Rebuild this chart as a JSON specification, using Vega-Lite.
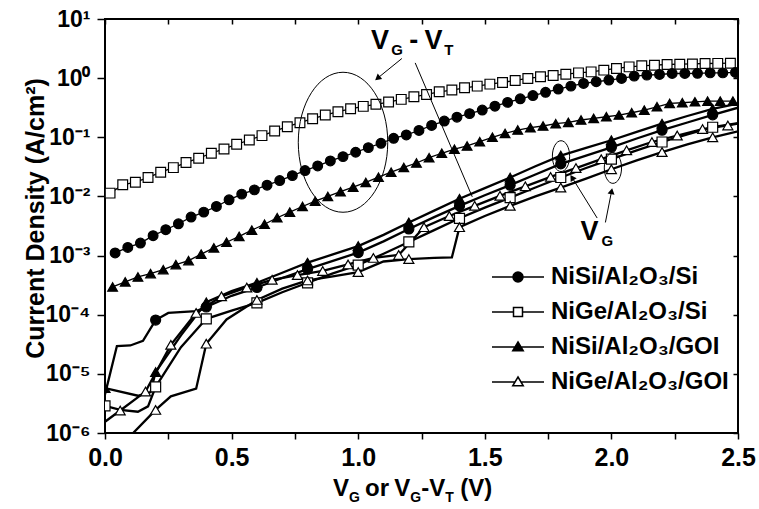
{
  "$schema": "https://vega.github.io/schema/vega-lite/v6.json",
  "width": 633,
  "height": 414,
  "autosize": {"type": "none"},
  "padding": {"left": 105, "top": 19, "right": 21, "bottom": 76},
  "background": "white",
  "config": {
    "view": {"stroke": "black", "strokeWidth": 2},
    "font": "Liberation Sans",
    "axis": {"labelFont": "Liberation Sans", "titleFont": "Liberation Sans", "labelColor": "black", "titleColor": "black", "tickColor": "black", "grid": false, "domain": false}
  },
  "datasets": {
    "vt": [
      {"s":"NiGe/Al2O3/Si","x":0.02,"y":0.01138},{"s":"NiGe/Al2O3/Si","x":0.07,"y":0.0157},{"s":"NiGe/Al2O3/Si","x":0.12,"y":0.01742},{"s":"NiGe/Al2O3/Si","x":0.17,"y":0.02084},{"s":"NiGe/Al2O3/Si","x":0.22,"y":0.0257},{"s":"NiGe/Al2O3/Si","x":0.27,"y":0.03069},{"s":"NiGe/Al2O3/Si","x":0.32,"y":0.03733},{"s":"NiGe/Al2O3/Si","x":0.37,"y":0.04426},{"s":"NiGe/Al2O3/Si","x":0.42,"y":0.0537},{"s":"NiGe/Al2O3/Si","x":0.47,"y":0.06353},
      {"s":"NiGe/Al2O3/Si","x":0.52,"y":0.07621},{"s":"NiGe/Al2O3/Si","x":0.57,"y":0.08995},{"s":"NiGe/Al2O3/Si","x":0.62,"y":0.1067},{"s":"NiGe/Al2O3/Si","x":0.67,"y":0.1276},{"s":"NiGe/Al2O3/Si","x":0.72,"y":0.151},{"s":"NiGe/Al2O3/Si","x":0.77,"y":0.1762},{"s":"NiGe/Al2O3/Si","x":0.82,"y":0.2061},{"s":"NiGe/Al2O3/Si","x":0.87,"y":0.2377},{"s":"NiGe/Al2O3/Si","x":0.92,"y":0.2704},{"s":"NiGe/Al2O3/Si","x":0.97,"y":0.3034},
      {"s":"NiGe/Al2O3/Si","x":1.02,"y":0.3334},{"s":"NiGe/Al2O3/Si","x":1.07,"y":0.3606},{"s":"NiGe/Al2O3/Si","x":1.12,"y":0.3936},{"s":"NiGe/Al2O3/Si","x":1.17,"y":0.4375},{"s":"NiGe/Al2O3/Si","x":1.22,"y":0.4842},{"s":"NiGe/Al2O3/Si","x":1.27,"y":0.5297},{"s":"NiGe/Al2O3/Si","x":1.32,"y":0.5875},{"s":"NiGe/Al2O3/Si","x":1.37,"y":0.6281},{"s":"NiGe/Al2O3/Si","x":1.42,"y":0.6855},{"s":"NiGe/Al2O3/Si","x":1.47,"y":0.7328},
      {"s":"NiGe/Al2O3/Si","x":1.52,"y":0.7925},{"s":"NiGe/Al2O3/Si","x":1.57,"y":0.8453},{"s":"NiGe/Al2O3/Si","x":1.62,"y":0.9141},{"s":"NiGe/Al2O3/Si","x":1.67,"y":0.9886},{"s":"NiGe/Al2O3/Si","x":1.72,"y":1.052},{"s":"NiGe/Al2O3/Si","x":1.77,"y":1.112},{"s":"NiGe/Al2O3/Si","x":1.82,"y":1.167},{"s":"NiGe/Al2O3/Si","x":1.87,"y":1.227},{"s":"NiGe/Al2O3/Si","x":1.92,"y":1.276},{"s":"NiGe/Al2O3/Si","x":1.97,"y":1.365},
      {"s":"NiGe/Al2O3/Si","x":2.02,"y":1.459},{"s":"NiGe/Al2O3/Si","x":2.07,"y":1.552},{"s":"NiGe/Al2O3/Si","x":2.12,"y":1.614},{"s":"NiGe/Al2O3/Si","x":2.17,"y":1.656},{"s":"NiGe/Al2O3/Si","x":2.22,"y":1.702},{"s":"NiGe/Al2O3/Si","x":2.27,"y":1.722},{"s":"NiGe/Al2O3/Si","x":2.32,"y":1.738},{"s":"NiGe/Al2O3/Si","x":2.37,"y":1.77},{"s":"NiGe/Al2O3/Si","x":2.42,"y":1.778},{"s":"NiGe/Al2O3/Si","x":2.47,"y":1.791},

      {"s":"NiSi/Al2O3/Si","x":0.04,"y":0.001107},{"s":"NiSi/Al2O3/Si","x":0.09,"y":0.001374},{"s":"NiSi/Al2O3/Si","x":0.14,"y":0.001629},{"s":"NiSi/Al2O3/Si","x":0.19,"y":0.002168},{"s":"NiSi/Al2O3/Si","x":0.24,"y":0.002735},{"s":"NiSi/Al2O3/Si","x":0.29,"y":0.003451},{"s":"NiSi/Al2O3/Si","x":0.34,"y":0.004477},{"s":"NiSi/Al2O3/Si","x":0.39,"y":0.005433},{"s":"NiSi/Al2O3/Si","x":0.44,"y":0.006761},{"s":"NiSi/Al2O3/Si","x":0.49,"y":0.00877},
      {"s":"NiSi/Al2O3/Si","x":0.54,"y":0.01094},{"s":"NiSi/Al2O3/Si","x":0.59,"y":0.01291},{"s":"NiSi/Al2O3/Si","x":0.64,"y":0.01549},{"s":"NiSi/Al2O3/Si","x":0.69,"y":0.01854},{"s":"NiSi/Al2O3/Si","x":0.74,"y":0.02249},{"s":"NiSi/Al2O3/Si","x":0.79,"y":0.02735},{"s":"NiSi/Al2O3/Si","x":0.84,"y":0.03281},{"s":"NiSi/Al2O3/Si","x":0.89,"y":0.03981},{"s":"NiSi/Al2O3/Si","x":0.94,"y":0.0471},{"s":"NiSi/Al2O3/Si","x":0.99,"y":0.05585},
      {"s":"NiSi/Al2O3/Si","x":1.04,"y":0.06683},{"s":"NiSi/Al2O3/Si","x":1.09,"y":0.07925},{"s":"NiSi/Al2O3/Si","x":1.14,"y":0.09616},{"s":"NiSi/Al2O3/Si","x":1.19,"y":0.1094},{"s":"NiSi/Al2O3/Si","x":1.24,"y":0.1303},{"s":"NiSi/Al2O3/Si","x":1.29,"y":0.1585},{"s":"NiSi/Al2O3/Si","x":1.34,"y":0.1884},{"s":"NiSi/Al2O3/Si","x":1.39,"y":0.2188},{"s":"NiSi/Al2O3/Si","x":1.44,"y":0.2512},{"s":"NiSi/Al2O3/Si","x":1.49,"y":0.2884},
      {"s":"NiSi/Al2O3/Si","x":1.54,"y":0.335},{"s":"NiSi/Al2O3/Si","x":1.59,"y":0.389},{"s":"NiSi/Al2O3/Si","x":1.64,"y":0.4467},{"s":"NiSi/Al2O3/Si","x":1.69,"y":0.507},{"s":"NiSi/Al2O3/Si","x":1.74,"y":0.5754},{"s":"NiSi/Al2O3/Si","x":1.79,"y":0.6531},{"s":"NiSi/Al2O3/Si","x":1.84,"y":0.7328},{"s":"NiSi/Al2O3/Si","x":1.89,"y":0.8128},{"s":"NiSi/Al2O3/Si","x":1.94,"y":0.869},{"s":"NiSi/Al2O3/Si","x":1.99,"y":0.9268},
      {"s":"NiSi/Al2O3/Si","x":2.04,"y":0.9886},{"s":"NiSi/Al2O3/Si","x":2.09,"y":1.081},{"s":"NiSi/Al2O3/Si","x":2.14,"y":1.125},{"s":"NiSi/Al2O3/Si","x":2.19,"y":1.153},{"s":"NiSi/Al2O3/Si","x":2.24,"y":1.199},{"s":"NiSi/Al2O3/Si","x":2.29,"y":1.199},{"s":"NiSi/Al2O3/Si","x":2.34,"y":1.208},{"s":"NiSi/Al2O3/Si","x":2.39,"y":1.227},{"s":"NiSi/Al2O3/Si","x":2.44,"y":1.227},{"s":"NiSi/Al2O3/Si","x":2.49,"y":1.247},

      {"s":"NiSi/Al2O3/GOI","x":0.03,"y":0.0002951},{"s":"NiSi/Al2O3/GOI","x":0.08,"y":0.0003589},{"s":"NiSi/Al2O3/GOI","x":0.13,"y":0.0004355},{"s":"NiSi/Al2O3/GOI","x":0.18,"y":0.0004955},{"s":"NiSi/Al2O3/GOI","x":0.23,"y":0.0005781},{"s":"NiSi/Al2O3/GOI","x":0.28,"y":0.0007031},{"s":"NiSi/Al2O3/GOI","x":0.33,"y":0.0008222},{"s":"NiSi/Al2O3/GOI","x":0.38,"y":0.001059},{"s":"NiSi/Al2O3/GOI","x":0.43,"y":0.001349},{"s":"NiSi/Al2O3/GOI","x":0.48,"y":0.001679},
      {"s":"NiSi/Al2O3/GOI","x":0.53,"y":0.002113},{"s":"NiSi/Al2O3/GOI","x":0.58,"y":0.002692},{"s":"NiSi/Al2O3/GOI","x":0.63,"y":0.003388},{"s":"NiSi/Al2O3/GOI","x":0.68,"y":0.004365},{"s":"NiSi/Al2O3/GOI","x":0.73,"y":0.005433},{"s":"NiSi/Al2O3/GOI","x":0.78,"y":0.006761},{"s":"NiSi/Al2O3/GOI","x":0.83,"y":0.008318},{"s":"NiSi/Al2O3/GOI","x":0.88,"y":0.01},{"s":"NiSi/Al2O3/GOI","x":0.93,"y":0.01202},{"s":"NiSi/Al2O3/GOI","x":0.98,"y":0.01435},
      {"s":"NiSi/Al2O3/GOI","x":1.03,"y":0.01726},{"s":"NiSi/Al2O3/GOI","x":1.08,"y":0.02113},{"s":"NiSi/Al2O3/GOI","x":1.13,"y":0.0257},{"s":"NiSi/Al2O3/GOI","x":1.18,"y":0.0309},{"s":"NiSi/Al2O3/GOI","x":1.23,"y":0.03673},{"s":"NiSi/Al2O3/GOI","x":1.28,"y":0.04519},{"s":"NiSi/Al2O3/GOI","x":1.33,"y":0.0537},{"s":"NiSi/Al2O3/GOI","x":1.38,"y":0.06281},{"s":"NiSi/Al2O3/GOI","x":1.43,"y":0.07129},{"s":"NiSi/Al2O3/GOI","x":1.48,"y":0.08433},
      {"s":"NiSi/Al2O3/GOI","x":1.53,"y":0.1},{"s":"NiSi/Al2O3/GOI","x":1.58,"y":0.1161},{"s":"NiSi/Al2O3/GOI","x":1.63,"y":0.1327},{"s":"NiSi/Al2O3/GOI","x":1.68,"y":0.1452},{"s":"NiSi/Al2O3/GOI","x":1.73,"y":0.1552},{"s":"NiSi/Al2O3/GOI","x":1.78,"y":0.1698},{"s":"NiSi/Al2O3/GOI","x":1.83,"y":0.1791},{"s":"NiSi/Al2O3/GOI","x":1.88,"y":0.1959},{"s":"NiSi/Al2O3/GOI","x":1.93,"y":0.2089},{"s":"NiSi/Al2O3/GOI","x":1.98,"y":0.2223},
      {"s":"NiSi/Al2O3/GOI","x":2.03,"y":0.2377},{"s":"NiSi/Al2O3/GOI","x":2.08,"y":0.26},{"s":"NiSi/Al2O3/GOI","x":2.13,"y":0.2884},{"s":"NiSi/Al2O3/GOI","x":2.18,"y":0.3281},{"s":"NiSi/Al2O3/GOI","x":2.23,"y":0.3741},{"s":"NiSi/Al2O3/GOI","x":2.28,"y":0.3837},{"s":"NiSi/Al2O3/GOI","x":2.33,"y":0.3981},{"s":"NiSi/Al2O3/GOI","x":2.38,"y":0.4093},{"s":"NiSi/Al2O3/GOI","x":2.43,"y":0.4093},{"s":"NiSi/Al2O3/GOI","x":2.48,"y":0.4093}
    ],
    "vg": [
      {"c":"a","s":"NiSi/Al2O3/Si","x":0,"y":4.5e-6,"m":0},{"c":"a","s":"NiSi/Al2O3/Si","x":0.047,"y":2.951e-5,"m":0},{"c":"a","s":"NiSi/Al2O3/Si","x":0.1,"y":3.02e-5,"m":0},{"c":"a","s":"NiSi/Al2O3/Si","x":0.15,"y":3.631e-5,"m":0},{"c":"a","s":"NiSi/Al2O3/Si","x":0.2,"y":8.128e-5,"m":1},{"c":"a","s":"NiSi/Al2O3/Si","x":0.25,"y":1.072e-4,"m":0},{"c":"a","s":"NiSi/Al2O3/Si","x":0.36,"y":1.148e-4,"m":0},{"c":"a","s":"NiSi/Al2O3/Si","x":0.4,"y":1.349e-4,"m":1},{"c":"a","s":"NiSi/Al2O3/Si","x":0.5,"y":2.089e-4,"m":0},{"c":"a","s":"NiSi/Al2O3/Si","x":0.6,"y":2.884e-4,"m":1},
      {"c":"a","s":"NiSi/Al2O3/Si","x":0.7,"y":4.169e-4,"m":0},{"c":"a","s":"NiSi/Al2O3/Si","x":0.8,"y":5.888e-4,"m":1},{"c":"a","s":"NiSi/Al2O3/Si","x":0.9,"y":8.128e-4,"m":0},{"c":"a","s":"NiSi/Al2O3/Si","x":1.0,"y":1.122e-3,"m":1},{"c":"a","s":"NiSi/Al2O3/Si","x":1.1,"y":1.738e-3,"m":0},{"c":"a","s":"NiSi/Al2O3/Si","x":1.2,"y":2.818e-3,"m":1},{"c":"a","s":"NiSi/Al2O3/Si","x":1.3,"y":4.467e-3,"m":0},{"c":"a","s":"NiSi/Al2O3/Si","x":1.4,"y":6.918e-3,"m":1},{"c":"a","s":"NiSi/Al2O3/Si","x":1.5,"y":1.047e-2,"m":0},{"c":"a","s":"NiSi/Al2O3/Si","x":1.6,"y":1.549e-2,"m":1},
      {"c":"a","s":"NiSi/Al2O3/Si","x":1.7,"y":2.344e-2,"m":0},{"c":"a","s":"NiSi/Al2O3/Si","x":1.8,"y":3.548e-2,"m":1},{"c":"a","s":"NiSi/Al2O3/Si","x":1.9,"y":4.898e-2,"m":0},{"c":"a","s":"NiSi/Al2O3/Si","x":2.0,"y":6.761e-2,"m":1},{"c":"a","s":"NiSi/Al2O3/Si","x":2.1,"y":9.55e-2,"m":0},{"c":"a","s":"NiSi/Al2O3/Si","x":2.2,"y":0.1318,"m":1},{"c":"a","s":"NiSi/Al2O3/Si","x":2.3,"y":0.1778,"m":0},{"c":"a","s":"NiSi/Al2O3/Si","x":2.4,"y":0.2399,"m":1},{"c":"a","s":"NiSi/Al2O3/Si","x":2.5,"y":0.3162,"m":0},

      {"c":"b","s":"NiSi/Al2O3/GOI","x":0,"y":5.754e-6,"m":1},{"c":"b","s":"NiSi/Al2O3/GOI","x":0.13,"y":4.266e-6,"m":0},{"c":"b","s":"NiSi/Al2O3/GOI","x":0.18,"y":4.898e-6,"m":0},{"c":"b","s":"NiSi/Al2O3/GOI","x":0.2,"y":1.072e-5,"m":1},{"c":"b","s":"NiSi/Al2O3/GOI","x":0.3,"y":4.467e-5,"m":0},{"c":"b","s":"NiSi/Al2O3/GOI","x":0.4,"y":1.622e-4,"m":1},{"c":"b","s":"NiSi/Al2O3/GOI","x":0.5,"y":2.512e-4,"m":0},{"c":"b","s":"NiSi/Al2O3/GOI","x":0.6,"y":3.467e-4,"m":1},{"c":"b","s":"NiSi/Al2O3/GOI","x":0.7,"y":5.129e-4,"m":0},{"c":"b","s":"NiSi/Al2O3/GOI","x":0.8,"y":7.586e-4,"m":1},
      {"c":"b","s":"NiSi/Al2O3/GOI","x":0.9,"y":1.047e-3,"m":0},{"c":"b","s":"NiSi/Al2O3/GOI","x":1.0,"y":1.445e-3,"m":1},{"c":"b","s":"NiSi/Al2O3/GOI","x":1.1,"y":2.239e-3,"m":0},{"c":"b","s":"NiSi/Al2O3/GOI","x":1.2,"y":3.631e-3,"m":1},{"c":"b","s":"NiSi/Al2O3/GOI","x":1.3,"y":5.754e-3,"m":0},{"c":"b","s":"NiSi/Al2O3/GOI","x":1.4,"y":9.12e-3,"m":1},{"c":"b","s":"NiSi/Al2O3/GOI","x":1.5,"y":1.38e-2,"m":0},{"c":"b","s":"NiSi/Al2O3/GOI","x":1.6,"y":2.089e-2,"m":1},{"c":"b","s":"NiSi/Al2O3/GOI","x":1.7,"y":3.236e-2,"m":0},{"c":"b","s":"NiSi/Al2O3/GOI","x":1.8,"y":4.898e-2,"m":1},
      {"c":"b","s":"NiSi/Al2O3/GOI","x":1.9,"y":6.607e-2,"m":0},{"c":"b","s":"NiSi/Al2O3/GOI","x":2.0,"y":8.913e-2,"m":1},{"c":"b","s":"NiSi/Al2O3/GOI","x":2.1,"y":0.123,"m":0},{"c":"b","s":"NiSi/Al2O3/GOI","x":2.2,"y":0.1698,"m":1},{"c":"b","s":"NiSi/Al2O3/GOI","x":2.3,"y":0.2291,"m":0},{"c":"b","s":"NiSi/Al2O3/GOI","x":2.4,"y":0.302,"m":1},{"c":"b","s":"NiSi/Al2O3/GOI","x":2.5,"y":0.3715,"m":0},

      {"c":"c","s":"NiGe/Al2O3/Si","x":0,"y":2.884e-6,"m":1},{"c":"c","s":"NiGe/Al2O3/Si","x":0.06,"y":2.455e-6,"m":0},{"c":"c","s":"NiGe/Al2O3/Si","x":0.13,"y":2.291e-6,"m":0},{"c":"c","s":"NiGe/Al2O3/Si","x":0.17,"y":2.818e-6,"m":0},{"c":"c","s":"NiGe/Al2O3/Si","x":0.2,"y":6.026e-6,"m":1},{"c":"c","s":"NiGe/Al2O3/Si","x":0.3,"y":2.818e-5,"m":0},{"c":"c","s":"NiGe/Al2O3/Si","x":0.4,"y":8.511e-5,"m":1},{"c":"c","s":"NiGe/Al2O3/Si","x":0.5,"y":1.175e-4,"m":0},{"c":"c","s":"NiGe/Al2O3/Si","x":0.6,"y":1.585e-4,"m":1},{"c":"c","s":"NiGe/Al2O3/Si","x":0.7,"y":2.399e-4,"m":0},
      {"c":"c","s":"NiGe/Al2O3/Si","x":0.8,"y":3.467e-4,"m":1},{"c":"c","s":"NiGe/Al2O3/Si","x":0.9,"y":5.012e-4,"m":0},{"c":"c","s":"NiGe/Al2O3/Si","x":1.0,"y":6.918e-4,"m":1},{"c":"c","s":"NiGe/Al2O3/Si","x":1.1,"y":1.072e-3,"m":0},{"c":"c","s":"NiGe/Al2O3/Si","x":1.2,"y":1.698e-3,"m":1},{"c":"c","s":"NiGe/Al2O3/Si","x":1.3,"y":2.692e-3,"m":0},{"c":"c","s":"NiGe/Al2O3/Si","x":1.4,"y":4.266e-3,"m":1},{"c":"c","s":"NiGe/Al2O3/Si","x":1.5,"y":6.457e-3,"m":0},{"c":"c","s":"NiGe/Al2O3/Si","x":1.6,"y":9.55e-3,"m":1},{"c":"c","s":"NiGe/Al2O3/Si","x":1.7,"y":1.413e-2,"m":0},
      {"c":"c","s":"NiGe/Al2O3/Si","x":1.8,"y":2.089e-2,"m":1},{"c":"c","s":"NiGe/Al2O3/Si","x":1.9,"y":3.02e-2,"m":0},{"c":"c","s":"NiGe/Al2O3/Si","x":2.0,"y":4.266e-2,"m":1},{"c":"c","s":"NiGe/Al2O3/Si","x":2.1,"y":6.026e-2,"m":0},{"c":"c","s":"NiGe/Al2O3/Si","x":2.2,"y":8.318e-2,"m":1},{"c":"c","s":"NiGe/Al2O3/Si","x":2.3,"y":0.1122,"m":0},{"c":"c","s":"NiGe/Al2O3/Si","x":2.4,"y":0.1479,"m":1},{"c":"c","s":"NiGe/Al2O3/Si","x":2.5,"y":0.1738,"m":0},

      {"c":"d","s":"NiGe/Al2O3/GOI","x":0,"y":1.549e-6,"m":0},{"c":"d","s":"NiGe/Al2O3/GOI","x":0.06,"y":2.399e-6,"m":1},{"c":"d","s":"NiGe/Al2O3/GOI","x":0.16,"y":5.012e-6,"m":1},{"c":"d","s":"NiGe/Al2O3/GOI","x":0.26,"y":3.09e-5,"m":1},{"c":"d","s":"NiGe/Al2O3/GOI","x":0.36,"y":1.072e-4,"m":1},{"c":"d","s":"NiGe/Al2O3/GOI","x":0.46,"y":2.042e-4,"m":1},{"c":"d","s":"NiGe/Al2O3/GOI","x":0.56,"y":2.884e-4,"m":1},{"c":"d","s":"NiGe/Al2O3/GOI","x":0.66,"y":3.89e-4,"m":1},{"c":"d","s":"NiGe/Al2O3/GOI","x":0.76,"y":4.677e-4,"m":1},{"c":"d","s":"NiGe/Al2O3/GOI","x":0.86,"y":5.495e-4,"m":1},
      {"c":"d","s":"NiGe/Al2O3/GOI","x":0.96,"y":7.079e-4,"m":1},{"c":"d","s":"NiGe/Al2O3/GOI","x":1.06,"y":9.12e-4,"m":1},{"c":"d","s":"NiGe/Al2O3/GOI","x":1.16,"y":1.023e-3,"m":1},{"c":"d","s":"NiGe/Al2O3/GOI","x":1.26,"y":3.02e-3,"m":1},{"c":"d","s":"NiGe/Al2O3/GOI","x":1.36,"y":4.677e-3,"m":1},{"c":"d","s":"NiGe/Al2O3/GOI","x":1.46,"y":6.918e-3,"m":1},{"c":"d","s":"NiGe/Al2O3/GOI","x":1.56,"y":1.023e-2,"m":1},{"c":"d","s":"NiGe/Al2O3/GOI","x":1.66,"y":1.479e-2,"m":1},{"c":"d","s":"NiGe/Al2O3/GOI","x":1.76,"y":2.138e-2,"m":1},{"c":"d","s":"NiGe/Al2O3/GOI","x":1.86,"y":3.02e-2,"m":1},
      {"c":"d","s":"NiGe/Al2O3/GOI","x":1.96,"y":4.266e-2,"m":1},{"c":"d","s":"NiGe/Al2O3/GOI","x":2.06,"y":6.026e-2,"m":1},{"c":"d","s":"NiGe/Al2O3/GOI","x":2.16,"y":8.318e-2,"m":1},{"c":"d","s":"NiGe/Al2O3/GOI","x":2.26,"y":0.1072,"m":1},{"c":"d","s":"NiGe/Al2O3/GOI","x":2.36,"y":0.138,"m":1},{"c":"d","s":"NiGe/Al2O3/GOI","x":2.46,"y":0.1585,"m":1},{"c":"d","s":"NiGe/Al2O3/GOI","x":2.5,"y":0.1698,"m":0},

      {"c":"e","s":"NiGe/Al2O3/GOI","x":0.1,"y":8.913e-7,"m":0},{"c":"e","s":"NiGe/Al2O3/GOI","x":0.2,"y":2.455e-6,"m":1},{"c":"e","s":"NiGe/Al2O3/GOI","x":0.26,"y":4.169e-6,"m":0},{"c":"e","s":"NiGe/Al2O3/GOI","x":0.36,"y":5.623e-6,"m":0},{"c":"e","s":"NiGe/Al2O3/GOI","x":0.4,"y":3.236e-5,"m":1},{"c":"e","s":"NiGe/Al2O3/GOI","x":0.48,"y":8.318e-5,"m":0},{"c":"e","s":"NiGe/Al2O3/GOI","x":0.6,"y":1.778e-4,"m":1},{"c":"e","s":"NiGe/Al2O3/GOI","x":0.7,"y":2.754e-4,"m":0},{"c":"e","s":"NiGe/Al2O3/GOI","x":0.8,"y":3.802e-4,"m":1},{"c":"e","s":"NiGe/Al2O3/GOI","x":0.9,"y":4.467e-4,"m":0},
      {"c":"e","s":"NiGe/Al2O3/GOI","x":1.0,"y":5.248e-4,"m":1},{"c":"e","s":"NiGe/Al2O3/GOI","x":1.1,"y":7.943e-4,"m":0},{"c":"e","s":"NiGe/Al2O3/GOI","x":1.2,"y":8.71e-4,"m":1},{"c":"e","s":"NiGe/Al2O3/GOI","x":1.3,"y":9.12e-4,"m":0},{"c":"e","s":"NiGe/Al2O3/GOI","x":1.37,"y":9.333e-4,"m":0},{"c":"e","s":"NiGe/Al2O3/GOI","x":1.4,"y":3.02e-3,"m":1},{"c":"e","s":"NiGe/Al2O3/GOI","x":1.5,"y":4.677e-3,"m":0},{"c":"e","s":"NiGe/Al2O3/GOI","x":1.6,"y":6.918e-3,"m":1},{"c":"e","s":"NiGe/Al2O3/GOI","x":1.7,"y":1.0e-2,"m":0},{"c":"e","s":"NiGe/Al2O3/GOI","x":1.8,"y":1.413e-2,"m":1},
      {"c":"e","s":"NiGe/Al2O3/GOI","x":1.9,"y":1.995e-2,"m":0},{"c":"e","s":"NiGe/Al2O3/GOI","x":2.0,"y":2.884e-2,"m":1},{"c":"e","s":"NiGe/Al2O3/GOI","x":2.1,"y":4.074e-2,"m":0},{"c":"e","s":"NiGe/Al2O3/GOI","x":2.2,"y":5.623e-2,"m":1},{"c":"e","s":"NiGe/Al2O3/GOI","x":2.3,"y":7.586e-2,"m":0},{"c":"e","s":"NiGe/Al2O3/GOI","x":2.4,"y":0.1,"m":1},{"c":"e","s":"NiGe/Al2O3/GOI","x":2.5,"y":0.1259,"m":0}
    ],
    "annBig": [
      {"t":"V","x":1.051,"y":3.083},{"t":"-","x":1.2013,"y":3.083},{"t":"V","x":1.2615,"y":3.083},{"t":"V","x":1.8778,"y":0.001854}
    ],
    "annSub": [
      {"t":"G","x":1.1301,"y":2.443},{"t":"T","x":1.3398,"y":2.443},{"t":"G","x":1.9608,"y":0.001469}
    ],
    "xtMain": [
      {"t":"V","x":0.9007,"y":8.59e-8},{"t":"or","x":1.0273,"y":8.59e-8},{"t":"V","x":1.142,"y":8.59e-8},{"t":"-","x":1.2488,"y":8.59e-8},{"t":"V","x":1.2805,"y":8.59e-8},{"t":"(V)","x":1.4031,"y":8.59e-8}
    ],
    "xtSub": [
      {"t":"G","x":0.964,"y":6.81e-8},{"t":"G","x":1.2053,"y":6.81e-8},{"t":"T","x":1.3437,"y":6.81e-8}
    ],
    "arrows": [
      {"x":1.1725,"y":2.149,"x2":1.0763,"y2":0.996},
      {"x":1.2251,"y":1.81,"x2":1.4505,"y2":0.00984},
      {"x":1.9438,"y":0.00431,"x2":1.8446,"y2":0.0209},
      {"x":1.9763,"y":0.00363,"x2":2.0008,"y2":0.01228}
    ]
  },
  "layer": [
    {
      "data": {"name": "vt"},
      "mark": {"type": "line", "stroke": "black", "strokeWidth": 1.3, "clip": true},
      "encoding": {
        "x": {"field": "x", "type": "quantitative", "scale": {"domain": [0, 2.5], "nice": false, "zero": false},
              "axis": {"orient": "bottom", "values": [0,0.25,0.5,0.75,1,1.25,1.5,1.75,2,2.25,2.5], "labelExpr": "round(datum.value*100) % 50 == 0 ? format(datum.value, '.1f') : ''", "title": null, "tickSize": 6, "tickWidth": 1.5, "labelFontSize": 25, "labelFontWeight": "bold", "labelPadding": 6, "labelFlush": false, "labelOverlap": false}},
        "y": {"field": "y", "type": "quantitative", "scale": {"type": "log", "domain": [1e-6, 10], "nice": false},
              "axis": {"orient": "left", "values": [1e-6,1e-5,1e-4,1e-3,0.01,0.1,1,10], "labelExpr": "datum.value > 5 ? '10¹' : datum.value > 0.5 ? '10⁰' : datum.value > 0.05 ? '10⁻¹' : datum.value > 0.005 ? '10⁻²' : datum.value > 0.0005 ? '10⁻³' : datum.value > 0.00005 ? '10⁻⁴' : datum.value > 0.000005 ? '10⁻⁵' : '10⁻⁶'", "tickSize": 8, "tickWidth": 1.5, "labelFontSize": 23, "labelFontWeight": "bold", "labelPadding": 7, "labelOverlap": false, "labelFlush": false,
                       "title": "Current Density (A/cm²)", "titleFontSize": 25, "titleFontWeight": "bold", "titleAngle": -90, "titleAlign": "center", "titleBaseline": "alphabetic", "titleX": -62, "titleY": 199}},
        "detail": {"field": "s", "type": "nominal"}
      }
    },
    {
      "data": {"name": "vt"},
      "mark": {"type": "point", "filled": true, "opacity": 1, "stroke": "black", "strokeWidth": 1.2, "size": 95, "clip": true},
      "encoding": {
        "x": {"field": "x", "type": "quantitative", "scale": {"domain": [0, 2.5], "nice": false, "zero": false}, "axis": null},
        "y": {"field": "y", "type": "quantitative", "scale": {"type": "log", "domain": [1e-6, 10], "nice": false}, "axis": null},
        "shape": {"field": "s", "type": "nominal", "scale": {"domain": ["NiSi/Al2O3/Si","NiGe/Al2O3/Si","NiSi/Al2O3/GOI","NiGe/Al2O3/GOI"], "range": ["circle","square","triangle-up","triangle-up"]}, "legend": null},
        "fill": {"field": "s", "type": "nominal", "scale": {"domain": ["NiSi/Al2O3/Si","NiGe/Al2O3/Si","NiSi/Al2O3/GOI","NiGe/Al2O3/GOI"], "range": ["black","white","black","white"]}, "legend": null}
      }
    },
    {
      "data": {"name": "vg"},
      "mark": {"type": "line", "stroke": "black", "strokeWidth": 2.3, "clip": true},
      "encoding": {
        "x": {"field": "x", "type": "quantitative", "scale": {"domain": [0, 2.5], "nice": false, "zero": false},
              "axis": {"orient": "top", "values": [0,0.25,0.5,0.75,1,1.25,1.5,1.75,2,2.25,2.5], "labels": false, "title": null, "tickSize": -5, "tickWidth": 1.5}},
        "y": {"field": "y", "type": "quantitative", "scale": {"type": "log", "domain": [1e-6, 10], "nice": false},
              "axis": {"orient": "right", "values": [1e-6,1e-5,1e-4,1e-3,0.01,0.1,1,10], "labels": false, "title": null, "tickSize": -5, "tickWidth": 1.5}},
        "detail": {"field": "c", "type": "nominal"}
      }
    },
    {
      "data": {"name": "vg"},
      "transform": [{"filter": "datum.m == 1"}],
      "mark": {"type": "point", "filled": true, "opacity": 1, "stroke": "black", "strokeWidth": 1.2, "size": 100, "clip": true},
      "encoding": {
        "x": {"field": "x", "type": "quantitative", "scale": {"domain": [0, 2.5], "nice": false, "zero": false}, "axis": null},
        "y": {"field": "y", "type": "quantitative", "scale": {"type": "log", "domain": [1e-6, 10], "nice": false}, "axis": null},
        "shape": {"field": "s", "type": "nominal", "scale": {"domain": ["NiSi/Al2O3/Si","NiGe/Al2O3/Si","NiSi/Al2O3/GOI","NiGe/Al2O3/GOI"], "range": ["circle","square","triangle-up","triangle-up"]}, "legend": null},
        "fill": {"field": "s", "type": "nominal", "scale": {"domain": ["NiSi/Al2O3/Si","NiGe/Al2O3/Si","NiSi/Al2O3/GOI","NiGe/Al2O3/GOI"], "range": ["black","white","black","white"]}, "legend": null}
      }
    },
    {
      "data": {"name": "vt"},
      "transform": [{"filter": "datum.x > 99"}],
      "mark": {"type": "point", "filled": true, "opacity": 1, "stroke": "black", "strokeWidth": 2, "size": 100, "clip": true},
      "encoding": {
        "x": {"field": "x", "type": "quantitative", "scale": {"domain": [0, 2.5], "nice": false, "zero": false}, "axis": null},
        "y": {"field": "y", "type": "quantitative", "scale": {"type": "log", "domain": [1e-6, 10], "nice": false}, "axis": null},
        "shape": {"field": "s", "type": "nominal", "scale": {"domain": ["NiSi/Al2O3/Si","NiGe/Al2O3/Si","NiSi/Al2O3/GOI","NiGe/Al2O3/GOI"], "range": ["M-5.2,0H-1M1,0H5.2M-1,0A1,1 0 1,0 1,0A1,1 0 1,0 -1,0Z", "M-5.2,0H-0.9M0.9,0H5.2M-0.9,-0.9H0.9V0.9H-0.9Z", "M-5.2,0H-0.6M0.6,0H5.2M0,-1L1.05,0.75L-1.05,0.75Z", "M-5.2,0H-0.6M0.6,0H5.2M0,-1L1.05,0.75L-1.05,0.75Z"]},
          "legend": {"orient": "none", "legendX": 401, "legendY": 246, "title": null, "padding": 0, "labelExpr": "replace(replace(datum.label, '2', '₂'), '3', '₃')", "labelFont": "Liberation Sans", "labelFontSize": 24, "labelFontWeight": "bold", "labelColor": "black", "labelLimit": 400, "symbolSize": 100, "rowPadding": 11, "labelOffset": 21,
            "encode": {"symbols": {"stroke": {"value": "black"}, "strokeWidth": {"value": 2}}}}},
        "fill": {"field": "s", "type": "nominal", "scale": {"domain": ["NiSi/Al2O3/Si","NiGe/Al2O3/Si","NiSi/Al2O3/GOI","NiGe/Al2O3/GOI"], "range": ["black","white","black","white"]},
          "legend": {"orient": "none", "legendX": 401, "legendY": 246, "title": null, "padding": 0, "labelExpr": "replace(replace(datum.label, '2', '₂'), '3', '₃')", "labelFont": "Liberation Sans", "labelFontSize": 24, "labelFontWeight": "bold", "labelColor": "black", "labelLimit": 400, "symbolSize": 100, "rowPadding": 11, "labelOffset": 21,
            "encode": {"symbols": {"stroke": {"value": "black"}, "strokeWidth": {"value": 2}}}}}
      }
    },
    {
      "data": {"values": [{"x": 0.94, "y": 0.0824}]},
      "mark": {"type": "point", "shape": "M0,-1A0.639,1 0 1,1 0,1A0.639,1 0 1,1 0,-1Z", "size": 19600, "filled": false, "stroke": "black", "strokeWidth": 1, "opacity": 1},
      "encoding": {
        "x": {"field": "x", "type": "quantitative", "axis": null},
        "y": {"field": "y", "type": "quantitative", "axis": null}
      }
    },
    {
      "data": {"values": [{"x": 1.801, "y": 0.048}, {"x": 2.006, "y": 0.0303}]},
      "mark": {"type": "point", "shape": "M0,-1A0.56,1 0 1,1 0,1A0.56,1 0 1,1 0,-1Z", "size": 950, "filled": false, "stroke": "black", "strokeWidth": 1, "opacity": 1},
      "encoding": {
        "x": {"field": "x", "type": "quantitative", "axis": null},
        "y": {"field": "y", "type": "quantitative", "axis": null}
      }
    },
    {
      "data": {"name": "arrows"},
      "mark": {"type": "rule", "stroke": "black", "strokeWidth": 1},
      "encoding": {
        "x": {"field": "x", "type": "quantitative", "axis": null},
        "y": {"field": "y", "type": "quantitative", "axis": null},
        "x2": {"field": "x2"},
        "y2": {"field": "y2"}
      }
    },
    {
      "data": {"values": [{"x": 1.0763, "y": 0.996}]},
      "mark": {"type": "point", "shape": "triangle-up", "angle": 231, "size": 50, "filled": true, "fill": "black", "stroke": null, "opacity": 1},
      "encoding": {"x": {"field": "x", "type": "quantitative", "axis": null}, "y": {"field": "y", "type": "quantitative", "axis": null}}
    },
    {
      "data": {"values": [{"x": 1.8446, "y": 0.0209}]},
      "mark": {"type": "point", "shape": "triangle-up", "angle": 328, "size": 50, "filled": true, "fill": "black", "stroke": null, "opacity": 1},
      "encoding": {"x": {"field": "x", "type": "quantitative", "axis": null}, "y": {"field": "y", "type": "quantitative", "axis": null}}
    },
    {
      "data": {"values": [{"x": 2.0008, "y": 0.01228}]},
      "mark": {"type": "point", "shape": "triangle-up", "angle": 11, "size": 50, "filled": true, "fill": "black", "stroke": null, "opacity": 1},
      "encoding": {"x": {"field": "x", "type": "quantitative", "axis": null}, "y": {"field": "y", "type": "quantitative", "axis": null}}
    },
    {
      "data": {"name": "annBig"},
      "mark": {"type": "text", "align": "left", "baseline": "alphabetic", "font": "Liberation Sans", "fontWeight": "bold", "fontSize": 27, "fill": "black"},
      "encoding": {"x": {"field": "x", "type": "quantitative", "axis": null}, "y": {"field": "y", "type": "quantitative", "axis": null}, "text": {"field": "t"}}
    },
    {
      "data": {"name": "annSub"},
      "mark": {"type": "text", "align": "left", "baseline": "alphabetic", "font": "Liberation Sans", "fontWeight": "bold", "fontSize": 15, "fill": "black"},
      "encoding": {"x": {"field": "x", "type": "quantitative", "axis": null}, "y": {"field": "y", "type": "quantitative", "axis": null}, "text": {"field": "t"}}
    },
    {
      "data": {"name": "xtMain"},
      "mark": {"type": "text", "align": "left", "baseline": "alphabetic", "font": "Liberation Sans", "fontWeight": "bold", "fontSize": 24, "fill": "black"},
      "encoding": {"x": {"field": "x", "type": "quantitative", "axis": null}, "y": {"field": "y", "type": "quantitative", "axis": null}, "text": {"field": "t"}}
    },
    {
      "data": {"name": "xtSub"},
      "mark": {"type": "text", "align": "left", "baseline": "alphabetic", "font": "Liberation Sans", "fontWeight": "bold", "fontSize": 14, "fill": "black"},
      "encoding": {"x": {"field": "x", "type": "quantitative", "axis": null}, "y": {"field": "y", "type": "quantitative", "axis": null}, "text": {"field": "t"}}
    }
  ],
  "resolve": {"axis": {"x": "independent", "y": "independent"}, "scale": {"shape": "independent", "fill": "independent"}}
}
